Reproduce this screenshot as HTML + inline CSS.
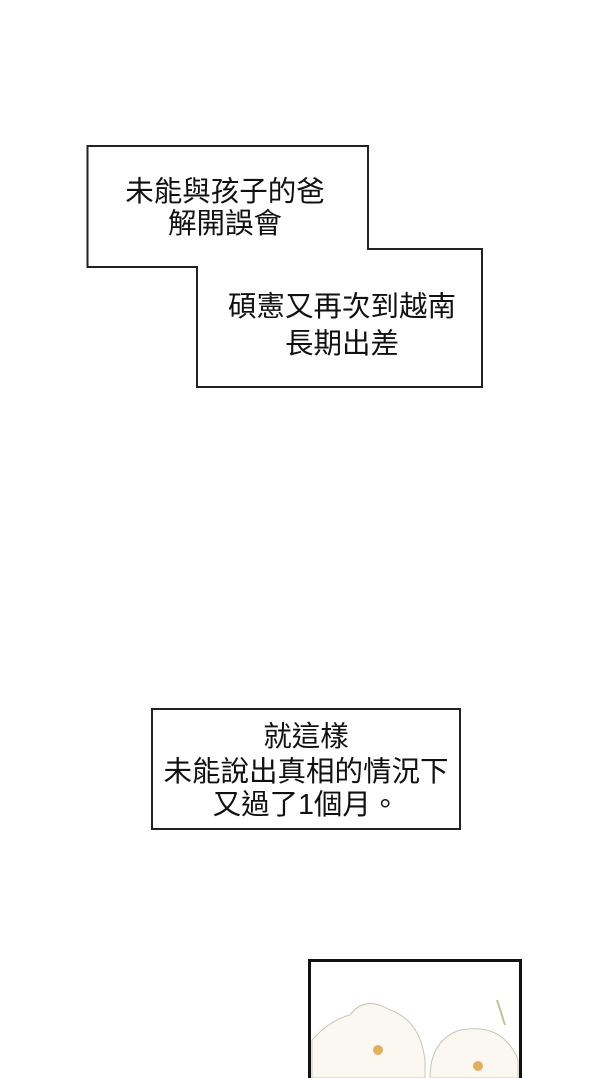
<!DOCTYPE html>
<html><head><meta charset="utf-8"><style>
body{margin:0;width:600px;height:1078px;background:#fff;overflow:hidden;position:relative;font-family:"Liberation Sans","Noto Sans CJK TC",sans-serif;}
.t{position:absolute;font-size:28.5px;line-height:28px;color:#111;text-align:center;white-space:nowrap;}
</style></head><body>
<svg width="600" height="1078" style="position:absolute;left:0;top:0">
<polygon points="87.5,146 368,146 368,249 482,249 482,387 197,387 197,267 87.5,267" fill="#fff" stroke="#222" stroke-width="2"/>
<rect x="152" y="709" width="308" height="120" fill="#fff" stroke="#222" stroke-width="2"/>
<rect x="309.5" y="960.5" width="211" height="120" fill="#fff" stroke="#111" stroke-width="3"/>
<g stroke="#c8c4b0" stroke-width="1" fill="#fbf8f2">
<path d="M312,1040 Q330,1020 350,1015 Q365,995 390,1010 Q420,1020 425,1060 L425,1078 L312,1078Z"/>
<path d="M430,1078 Q430,1040 460,1030 Q490,1025 505,1040 Q515,1050 518,1060 L518,1078Z"/>
</g>
<circle cx="378" cy="1050" r="5" fill="#e0b060"/>
<circle cx="478" cy="1066" r="5" fill="#e0b060"/>
<line x1="497" y1="1000" x2="505" y2="1025" stroke="#bcc890" stroke-width="2"/>
</svg>
<div class="t" style="left:87px;width:276px;top:178px">未能與孩子的爸</div>
<div class="t" style="left:87px;width:276px;top:210px">解開誤會</div>
<div class="t" style="left:197px;width:290px;top:293px">碩憲又再次到越南</div>
<div class="t" style="left:197px;width:290px;top:330px">長期出差</div>
<div class="t" style="left:152px;width:308px;top:723px">就這樣</div>
<div class="t" style="left:152px;width:308px;top:758px">未能說出真相的情況下</div>
<div class="t" style="left:152px;width:308px;top:791px">又過了1個月。</div>
</body></html>
